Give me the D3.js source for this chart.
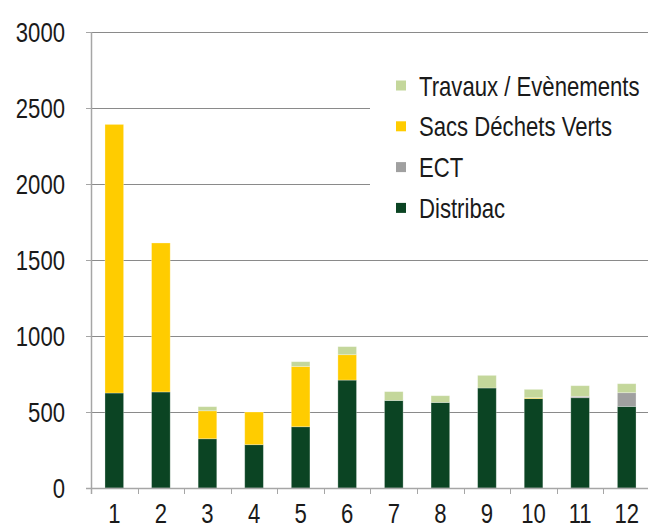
<!DOCTYPE html>
<html>
<head>
<meta charset="utf-8">
<script src="https://cdn.jsdelivr.net/npm/d3@7"></script>
<style>
  body { margin: 0; background: #fff; }
  svg text { font-family: "Liberation Sans", Arial, sans-serif; fill: #1a1a1a; }
</style>
</head>
<body>
<svg id="chart" width="648" height="524"></svg>
<script>
// months 1..12
var months = ["1","2","3","4","5","6","7","8","9","10","11","12"];
var distribac = [625, 632, 324, 285, 403, 710, 576, 563, 658, 588, 594, 537];
var ect       = [0, 0, 0, 0, 0, 0, 0, 0, 0, 0, 9, 90];
var sacs      = [1767, 980, 184, 215, 397, 167, 0, 0, 0, 6, 0, 0];
var travaux   = [0, 0, 27, 0, 31, 53, 58, 44, 83, 55, 70, 59];
var yTicks = [0, 500, 1000, 1500, 2000, 2500, 3000];

var seriesNames = ["Distribac", "ECT", "Sacs Déchets Verts", "Travaux / Evènements"];
var seriesColors = ["#0b4423", "#a0a0a0", "#ffcc00", "#c4d79b"];

var svg = d3.select("#chart");
var plotLeft = 91, plotRight = 650, plotTop = 32, plotBottom = 488;
var sx = 0.82; // narrow type

// build rows for the stack
var rows = months.map(function(m, i) {
	return { month: m, "Distribac": distribac[i], "ECT": ect[i],
		"Sacs Déchets Verts": sacs[i], "Travaux / Evènements": travaux[i] };
});
var stack = d3.stack().keys(seriesNames)(rows);

var x = d3.scaleBand().domain(months).range([plotLeft, plotRight]).paddingInner(0.6).paddingOuter(0.3);
var y = d3.scaleLinear().domain([0, 3000]).range([plotBottom, plotTop]);
var color = d3.scaleOrdinal().domain(seriesNames).range(seriesColors);

//Gridlines (legend box hides part of the upper ones)
svg.append("g")
	.selectAll("line")
	.data(yTicks.filter(function(d) { return d > 0; }))
	.enter().append("line")
	.attr("x1", plotLeft).attr("x2", 648)
	.attr("y1", function(d) { return Math.round(y(d)) + 0.5; })
	.attr("y2", function(d) { return Math.round(y(d)) + 0.5; })
	.attr("stroke", "#8a8a8a")
	.attr("stroke-width", 1);

//Bars
svg.append("g")
	.selectAll("g")
	.data(stack)
	.enter().append("g")
	.attr("fill", function(d) { return color(d.key); })
	.selectAll("rect")
	.data(function(d) { return d.filter(function(v) { return v[1] - v[0] > 0; }); })
	.enter().append("rect")
	.attr("x", function(d) { return x(d.data.month); })
	.attr("width", x.bandwidth())
	.attr("y", function(d) { return y(d[1]); })
	.attr("height", function(d) { return y(d[0]) - y(d[1]); })
	.attr("stroke", "rgba(255,255,255,0.35)")
	.attr("stroke-width", 0.8);

//Legend box covering gridlines
var legend = svg.append("g");
legend.append("rect")
	.attr("x", 370).attr("y", 55).attr("width", 278).attr("height", 180)
	.attr("fill", "#fff");
var legendOrder = seriesNames.slice().reverse();
var item = legend.selectAll("g.item")
	.data(legendOrder)
	.enter().append("g")
	.attr("class", "item")
	.attr("transform", function(d, i) { return "translate(396," + (85.5 + i * 40.8) + ")"; });
item.append("rect")
	.attr("x", 0).attr("y", -5).attr("width", 10).attr("height", 10)
	.attr("fill", function(d) { return color(d); });
item.append("text")
	.attr("transform", "translate(23,10) scale(" + sx + ",1)")
	.attr("font-size", 27)
	.text(function(d) { return d; });

//Y axis
var ya = svg.append("g");
ya.append("line")
	.attr("x1", plotLeft + 0.5).attr("x2", plotLeft + 0.5)
	.attr("y1", plotTop).attr("y2", plotBottom + 6)
	.attr("stroke", "#a6a6a6").attr("stroke-width", 1.5);
ya.selectAll("line.tick")
	.data(yTicks)
	.enter().append("line")
	.attr("class", "tick")
	.attr("x1", plotLeft - 5).attr("x2", plotLeft)
	.attr("y1", function(d) { return Math.round(y(d)) + 0.5; })
	.attr("y2", function(d) { return Math.round(y(d)) + 0.5; })
	.attr("stroke", "#a6a6a6");
ya.selectAll("text")
	.data(yTicks)
	.enter().append("text")
	.attr("transform", function(d) { return "translate(65," + (y(d) + 9.5) + ") scale(" + sx + ",1)"; })
	.attr("text-anchor", "end")
	.attr("font-size", 27)
	.text(function(d) { return d; });

//X axis
var xa = svg.append("g");
xa.append("line")
	.attr("x1", plotLeft - 5).attr("x2", 648)
	.attr("y1", plotBottom + 0.5).attr("y2", plotBottom + 0.5)
	.attr("stroke", "#a6a6a6").attr("stroke-width", 1.5);
var boundaries = months.map(function(m) { return x(m) - x.step() * 0.3; });
xa.selectAll("line.tick")
	.data(boundaries)
	.enter().append("line")
	.attr("class", "tick")
	.attr("x1", function(d) { return Math.round(d) + 0.5; })
	.attr("x2", function(d) { return Math.round(d) + 0.5; })
	.attr("y1", plotBottom).attr("y2", plotBottom + 6)
	.attr("stroke", "#a6a6a6");
xa.selectAll("text")
	.data(months)
	.enter().append("text")
	.attr("transform", function(d) { return "translate(" + (x(d) + x.bandwidth() / 2) + ",523) scale(" + sx + ",1)"; })
	.attr("text-anchor", "middle")
	.attr("font-size", 27)
	.text(function(d) { return d; });
</script>
</body>
</html>
